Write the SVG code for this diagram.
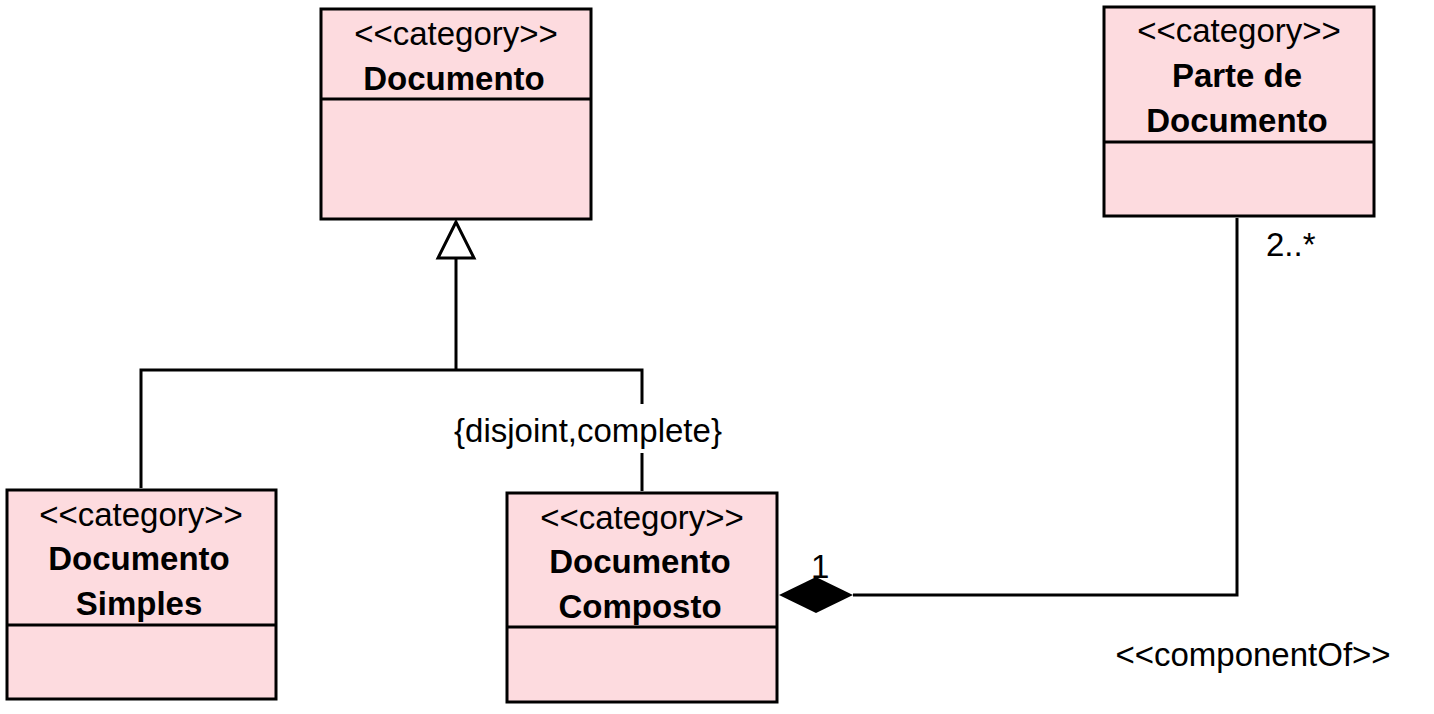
<svg xmlns="http://www.w3.org/2000/svg" width="1434" height="714" viewBox="0 0 1434 714">
<style>
.box{fill:#fddbdf;stroke:#000;stroke-width:3}
.div{stroke:#000;stroke-width:3}
.ln{fill:none;stroke:#000;stroke-width:3}
text{font-family:"Liberation Sans",Arial,sans-serif;font-size:33px;fill:#000}
.st{text-anchor:middle}
.nm{text-anchor:middle;font-weight:bold}
</style>
<rect width="1434" height="714" fill="#fff"/>
<g id="connectors">
<polygon points="456,222 438,258 474,258" fill="#fff" stroke="#000" stroke-width="3"/>
<polyline class="ln" points="456,258 456,370"/>
<polyline class="ln" points="141,488 141,370 642,370 642,404"/>
<line class="ln" x1="642" y1="453" x2="642" y2="491"/>
<polygon points="779,595 816,577 853,595 816,613" fill="#000"/>
<polyline class="ln" points="853,595 1237,595 1237,218"/>
<text x="588" y="442" class="st">{disjoint,complete}</text>
<text x="1266" y="256">2..*</text>
<text x="811" y="578">1</text>
<text x="1253" y="666" class="st">&lt;&lt;componentOf&gt;&gt;</text>
</g>
<g id="documento">
<rect class="box" x="321" y="9" width="270" height="210"/>
<line class="div" x1="321" y1="99" x2="591" y2="99"/>
<text x="456" y="45" class="st">&lt;&lt;category&gt;&gt;</text>
<text x="454" y="90" class="nm">Documento</text>
</g>
<g id="parte">
<rect class="box" x="1104" y="7" width="270" height="209"/>
<line class="div" x1="1104" y1="142" x2="1374" y2="142"/>
<text x="1239" y="42" class="st">&lt;&lt;category&gt;&gt;</text>
<text x="1237" y="87" class="nm">Parte de</text>
<text x="1237" y="132" class="nm">Documento</text>
</g>
<g id="simples">
<rect class="box" x="7" y="490" width="269" height="209"/>
<line class="div" x1="7" y1="625" x2="276" y2="625"/>
<text x="141" y="526" class="st">&lt;&lt;category&gt;&gt;</text>
<text x="139" y="570" class="nm">Documento</text>
<text x="139" y="615" class="nm">Simples</text>
</g>
<g id="composto">
<rect class="box" x="507" y="493" width="270" height="209"/>
<line class="div" x1="507" y1="627" x2="777" y2="627"/>
<text x="642" y="529" class="st">&lt;&lt;category&gt;&gt;</text>
<text x="640" y="573" class="nm">Documento</text>
<text x="640" y="618" class="nm">Composto</text>
</g>
</svg>
